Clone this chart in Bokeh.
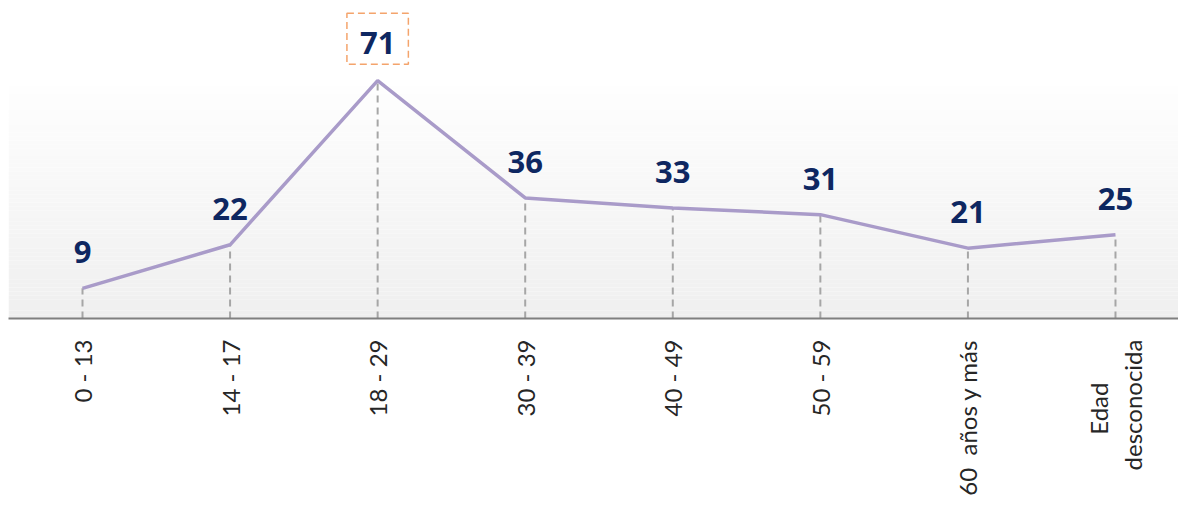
import numpy as np
from bokeh.plotting import figure
from bokeh.models import Range1d, ColumnDataSource
from bokeh.core.properties import value
from bokeh.embed import file_html
from bokeh.resources import INLINE

# ---- data ----
categories = ["0 - 13", "14 - 17", "18 - 29", "30 - 39", "40 - 49", "50 - 59",
              "60\u00a0 años y más", "Edad" + "\u00a0" * 7 + "\ndesconocida"]
counts = [9, 22, 71, 36, 33, 31, 21, 25]

xs = list(range(len(categories)))
imax = int(np.argmax(counts))

W, H = 1178, 509
FRAME_H = 318
X0, X1 = -0.5015, 7.427
Y1 = FRAME_H / 3.35
p = figure(width=W, height=H, output_backend="svg", toolbar_location=None,
           x_range=Range1d(X0, X1), y_range=Range1d(0, Y1),
           min_border_left=8, min_border_right=0, min_border_top=0,
           min_border_bottom=H - FRAME_H)
p.outline_line_color = None
p.background_fill_color = "white"
p.border_fill_color = "white"
p.xgrid.visible = False
p.ygrid.visible = False
p.yaxis.visible = False

# gradient background (decorative)
g_top = 69.3
nstrips = 60
edges = np.linspace(0, g_top, nstrips + 1)
cols = []
for i in range(nstrips):
    t = i / (nstrips - 1)  # 0 at bottom, 1 at top
    c = int(round(0xEF + (0xFE - 0xEF) * t))
    cols.append("#%02x%02x%02x" % (c, c, c))
p.quad(left=X0, right=X1, bottom=edges[:-1], top=edges[1:],
       fill_color=cols, line_color=None)

# drop lines
p.segment(x0=xs, y0=[0] * len(xs), x1=xs, y1=counts, line_color="#A6A6A6",
          line_width=2, line_dash="7 5")

# main line
p.line(xs, counts, line_color="#A99BC9", line_width=3.5)

# data labels
others = [i for i in xs if i != imax]
src = ColumnDataSource(dict(x=[xs[i] for i in others], y=[counts[i] for i in others],
                            t=[str(counts[i]) for i in others]))
p.text(x="x", y="y", text="t", source=src, text_align="center", text_baseline="middle",
       y_offset=-36, text_font=value("Open Sans"), text_font_style="bold",
       text_font_size="31px", text_color="#0E2761")
srcm = ColumnDataSource(dict(x=[xs[imax]], y=[counts[imax]], t=[str(counts[imax])]))
p.text(x="x", y="y", text="t", source=srcm, text_align="center", text_baseline="middle",
       y_offset=-42, text_font=value("Open Sans"), text_font_style="bold",
       text_font_size="31px", text_color="#0E2761",
       border_line_color="#F4A46C", border_line_width=1.5, border_line_dash="7 4",
       padding=dict(left=13, right=13, top=19, bottom=10))

# x axis
ax = p.xaxis[0]
ax.ticker = xs
ax.major_label_overrides = {i: c for i, c in enumerate(categories)}
ax.major_label_orientation = np.pi / 2
ax.major_tick_line_color = None
ax.minor_tick_line_color = None
ax.major_tick_out = 0
ax.major_label_standoff = 21
ax.axis_line_color = "#808080"
ax.axis_line_width = 2
ax.major_label_text_font = "Lato"
ax.major_label_text_font_size = "24px"
ax.major_label_text_color = "#262626"

open("out.html", "w").write(file_html(p, INLINE))
